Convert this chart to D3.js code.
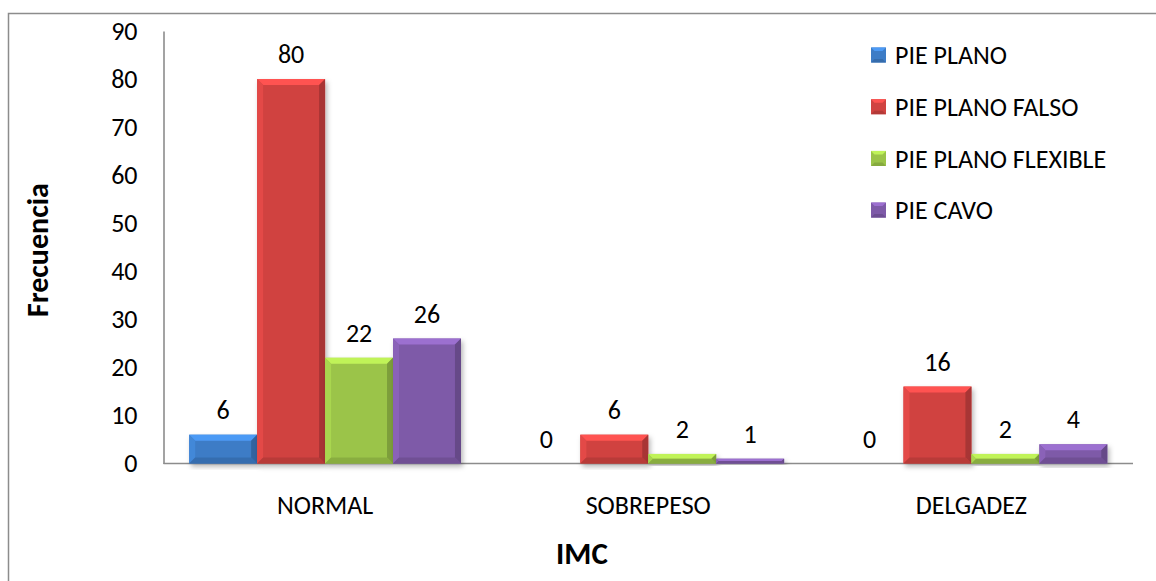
<!DOCTYPE html>
<html>
<head>
<meta charset="utf-8">
<script src="https://cdn.jsdelivr.net/npm/d3@7/dist/d3.min.js"></script>
<style>
  html, body { margin: 0; padding: 0; background: #fff; }
  svg { display: block; }
  text { font-family: Carlito, Calibri, Lato, "Open Sans", sans-serif; fill: #000; }
</style>
</head>
<body>
<svg id="chart" width="1156" height="581"></svg>
<script>
// Frequencies of foot type by BMI group
const categories = ["NORMAL", "SOBREPESO", "DELGADEZ"];
const seriesNames = ["PIE PLANO", "PIE PLANO FALSO", "PIE PLANO FLEXIBLE", "PIE CAVO"];
const piePlano = [6, 0, 0];
const piePlanoFalso = [80, 6, 16];
const piePlanoFlexible = [22, 2, 2];
const pieCavo = [26, 1, 4];
const yTicks = [0, 10, 20, 30, 40, 50, 60, 70, 80, 90];
const seriesColors = ["#3d7cc6", "#d04341", "#9bc448", "#7e5aa8"];

const seriesValues = [piePlano, piePlanoFalso, piePlanoFlexible, pieCavo];
const FONT = "Carlito, Calibri, Lato, 'Open Sans', sans-serif";
const FS = 26;

const svg = d3.select("#chart");

// outer frame (top and left edges visible)
svg.append("path")
  .attr("d", "M8.5,581 L8.5,13.5 L1156,13.5")
  .attr("fill", "none").attr("stroke", "#8c8c8c").attr("stroke-width", 1.5);

const plot = { left: 163.5, right: 1133, top: 31, bottom: 463.5 };

const x0 = d3.scaleBand().domain(categories).range([plot.left, plot.right]).paddingInner(0.159).paddingOuter(0.0795);
const x1 = d3.scaleBand().domain(seriesNames).range([0, x0.bandwidth()]);
const y = d3.scaleLinear().domain([0, 90]).range([plot.bottom, plot.top]);

const defs = svg.append("defs");
const shadow = defs.append("filter").attr("id", "shadow")
  .attr("x", "-20%").attr("y", "-20%").attr("width", "140%").attr("height", "140%");
shadow.append("feDropShadow").attr("dx", 2).attr("dy", 3).attr("stdDeviation", 2.5)
  .attr("flood-color", "#000").attr("flood-opacity", 0.28);

// y axis
const yAxis = svg.append("g").attr("transform", `translate(${plot.left},0)`)
  .call(d3.axisLeft(y).tickValues(yTicks).tickSize(0).tickPadding(26));
yAxis.select(".domain").attr("stroke", "#8c8c8c").attr("stroke-width", 1.6);
yAxis.selectAll("text").attr("font-size", FS).attr("fill", "#000").style("font-family", FONT);

// x axis
const xAxis = svg.append("g").attr("transform", `translate(0,${plot.bottom})`)
  .call(d3.axisBottom(x0).tickSize(0).tickPadding(32));
xAxis.select(".domain").attr("d", `M${plot.left},0H${plot.right}`)
  .attr("stroke", "#8c8c8c").attr("stroke-width", 1.6);
xAxis.selectAll("text").attr("font-size", FS).attr("fill", "#000").style("font-family", FONT);

// bevelled bar
function bevelBar(g, x, yTop, w, h, color) {
  if (h <= 0) return;
  const b = Math.min(6, h / 2, w / 2);
  const c = d3.color(color);
  const light = c.brighter(0.6).formatHex();
  const lighter = c.brighter(0.25).formatHex();
  const dark = c.darker(0.6).formatHex();
  const darker = c.darker(0.35).formatHex();
  const grp = g.append("g").attr("filter", "url(#shadow)");
  grp.append("rect").attr("x", x).attr("y", yTop).attr("width", w).attr("height", h).attr("fill", color);
  const x2 = x + w, y2 = yTop + h;
  grp.append("path").attr("d", `M${x},${yTop}L${x2},${yTop}L${x2 - b},${yTop + b}L${x + b},${yTop + b}Z`).attr("fill", light);
  grp.append("path").attr("d", `M${x},${yTop}L${x + b},${yTop + b}L${x + b},${y2 - b}L${x},${y2}Z`).attr("fill", lighter);
  grp.append("path").attr("d", `M${x2},${yTop}L${x2},${y2}L${x2 - b},${y2 - b}L${x2 - b},${yTop + b}Z`).attr("fill", dark);
  grp.append("path").attr("d", `M${x},${y2}L${x + b},${y2 - b}L${x2 - b},${y2 - b}L${x2},${y2}Z`).attr("fill", darker);
}

const bars = svg.append("g");
const labels = svg.append("g");
categories.forEach((cat, ci) => {
  seriesNames.forEach((s, si) => {
    const v = seriesValues[si][ci];
    const bx = x0(cat) + x1(s);
    bevelBar(bars, bx, y(v), x1.bandwidth(), y(0) - y(v), seriesColors[si]);
    labels.append("text")
      .attr("x", bx + x1.bandwidth() / 2)
      .attr("y", y(v) - 16)
      .attr("text-anchor", "middle")
      .attr("font-size", FS)
      .text(v);
  });
});

// legend
const legend = svg.append("g").attr("transform", "translate(871,55)");
seriesNames.forEach((s, i) => {
  const row = legend.append("g").attr("transform", `translate(0,${i * 51.7})`);
  const c = d3.color(seriesColors[i]);
  const sz = 15, b = 3.5;
  row.append("rect").attr("x", 0).attr("y", -7.5).attr("width", sz).attr("height", sz).attr("fill", seriesColors[i]);
  row.append("path").attr("d", `M0,-7.5L${sz},-7.5L${sz - b},${-7.5 + b}L${b},${-7.5 + b}Z`).attr("fill", c.brighter(0.6).formatHex());
  row.append("path").attr("d", `M0,7.5L${b},${7.5 - b}L${sz - b},${7.5 - b}L${sz},7.5Z`).attr("fill", c.darker(0.4).formatHex());
  row.append("text").attr("x", 24).attr("y", 0).attr("dy", "0.35em")
    .attr("font-size", FS).text(s);
});

// axis titles
svg.append("text")
  .attr("x", 582).attr("y", 553).attr("dy", "0.35em")
  .attr("text-anchor", "middle").attr("font-size", 31).attr("font-weight", "bold")
  .text("IMC");
svg.append("text")
  .attr("transform", "translate(37,250) rotate(-90)")
  .attr("dy", "0.35em")
  .attr("text-anchor", "middle").attr("font-size", 30).attr("font-weight", "bold")
  .text("Frecuencia");
</script>
</body>
</html>
